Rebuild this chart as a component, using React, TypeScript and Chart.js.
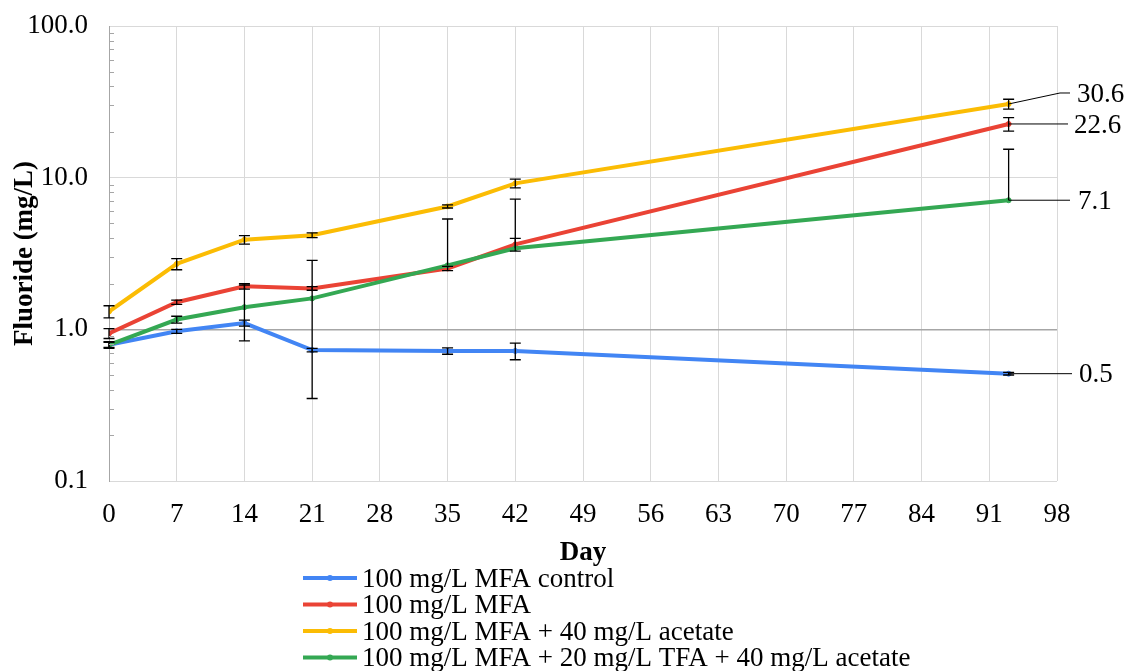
import React, { useEffect, useRef } from 'react';
import { Chart, registerables } from 'chart.js';

Chart.register(...registerables);

// ---------- data ----------
const days = [0, 7, 14, 21, 35, 42, 93];

const seriesNames = [
  '100 mg/L MFA control',
  '100 mg/L MFA',
  '100 mg/L MFA + 40 mg/L acetate',
  '100 mg/L MFA + 20 mg/L TFA + 40 mg/L acetate',
];

const controlValues = [0.79, 0.97, 1.1, 0.73, 0.72, 0.72, 0.51];
const controlErrors = [0.03, 0.03, 0.05, 0.02, 0.035, 0.09, 0.01];

const mfaValues = [0.94, 1.51, 1.92, 1.86, 2.52, 3.63, 22.6];
const mfaErrors = [0.07, 0.05, 0.08, 0.05, 0.08, 0.35, 2.3];

const acetateValues = [1.31, 2.7, 3.9, 4.17, 6.46, 9.17, 30.6];
const acetateErrors = [0.12, 0.23, 0.25, 0.15, 0.15, 0.6, 2.3];

const tfaValues = [0.79, 1.16, 1.4, 1.6, 2.64, 3.42, 7.1];
const tfaErrors = [0.04, 0.06, 0.56, 1.25, 2.7, 3.8, 8.3];

const endLabels = ['0.5', '22.6', '30.6', '7.1'];

const yTickValues = [0.1, 1, 10, 100];
const yTickLabels = ['0.1', '1.0', '10.0', '100.0'];

const seriesValues = [controlValues, mfaValues, acetateValues, tfaValues];
const seriesErrors = [controlErrors, mfaErrors, acetateErrors, tfaErrors];
const seriesColors = ['#4285F4', '#EA4335', '#FBBC04', '#34A853'];

const FONT = '"Liberation Serif", "Times New Roman", serif';
const FS = 27;

// ---------- plugins ----------
const minorTickPlugin = {
  id: 'minorTicks',
  afterDraw(chart: any) {
    const { ctx, chartArea } = chart;
    const y = chart.scales.y;
    ctx.save();
    ctx.strokeStyle = '#a6a6a6';
    ctx.lineWidth = 1;
    for (let d = -1; d < 2; d++) {
      for (let k = 2; k <= 9; k++) {
        const py = Math.round(y.getPixelForValue(k * Math.pow(10, d))) + 0.5;
        ctx.beginPath();
        ctx.moveTo(chartArea.left, py);
        ctx.lineTo(chartArea.left + 5, py);
        ctx.stroke();
      }
    }
    ctx.restore();
  },
};

const errorBarPlugin = {
  id: 'errorBars',
  afterDatasetsDraw(chart: any) {
    const { ctx } = chart;
    const xs = chart.scales.x;
    const ys = chart.scales.y;
    ctx.save();
    ctx.strokeStyle = '#000';
    ctx.lineWidth = 1.3;
    seriesValues.forEach((vals, i) => {
      const errs = seriesErrors[i];
      vals.forEach((v, j) => {
        const e = errs[j];
        const px = xs.getPixelForValue(days[j]);
        const py = ys.getPixelForValue(v);
        const top = ys.getPixelForValue(v + e);
        ctx.beginPath();
        ctx.moveTo(px, py);
        ctx.lineTo(px, top);
        ctx.moveTo(px - 5.5, top);
        ctx.lineTo(px + 5.5, top);
        if (v - e > 0) {
          const bot = ys.getPixelForValue(v - e);
          ctx.moveTo(px, py);
          ctx.lineTo(px, bot);
          ctx.moveTo(px - 5.5, bot);
          ctx.lineTo(px + 5.5, bot);
        }
        ctx.stroke();
      });
    });
    ctx.restore();
  },
};

const labelLayout = [
  { dy: 0, end: 1072, tx: 1079 },
  { dy: 0, end: 1068, tx: 1074 },
  { dy: -11, end: 1070, tx: 1077 },
  { dy: 0, end: 1070, tx: 1078 },
];

const endLabelPlugin = {
  id: 'endLabels',
  afterDraw(chart: any) {
    const { ctx } = chart;
    const xs = chart.scales.x;
    const ys = chart.scales.y;
    ctx.save();
    ctx.strokeStyle = '#000';
    ctx.fillStyle = '#000';
    ctx.lineWidth = 1;
    ctx.font = `${FS}px ${FONT}`;
    ctx.textBaseline = 'middle';
    ctx.textAlign = 'left';
    seriesValues.forEach((vals, i) => {
      const last = vals.length - 1;
      const px = xs.getPixelForValue(days[last]);
      const py = ys.getPixelForValue(vals[last]);
      const L = labelLayout[i];
      const ly = py + L.dy;
      ctx.beginPath();
      ctx.moveTo(px, py);
      if (L.dy !== 0) ctx.lineTo(1060, ly);
      ctx.lineTo(L.end, ly);
      ctx.stroke();
      ctx.fillText(endLabels[i], L.tx, ly + 1.5);
    });
    ctx.restore();
  },
};

const legendPlugin = {
  id: 'customLegend',
  afterDraw(chart: any) {
    const { ctx } = chart;
    ctx.save();
    ctx.font = `${FS}px ${FONT}`;
    ctx.textBaseline = 'alphabetic';
    ctx.textAlign = 'left';
    seriesNames.forEach((name, i) => {
      const base = 586.5 + i * 26.5;
      const cy = base - 8.4;
      ctx.strokeStyle = seriesColors[i];
      ctx.lineWidth = 4;
      ctx.beginPath();
      ctx.moveTo(303, cy);
      ctx.lineTo(357, cy);
      ctx.stroke();
      ctx.fillStyle = seriesColors[i];
      ctx.beginPath();
      ctx.arc(330, cy, 3, 0, Math.PI * 2);
      ctx.fill();
      ctx.fillStyle = '#000';
      ctx.fillText(name, 362, base);
    });
    ctx.restore();
  },
};

export default function App() {
  const canvasRef = useRef<HTMLCanvasElement | null>(null);

  useEffect(() => {
    if (!canvasRef.current) return;
    const datasets = seriesValues.map((vals, i) => ({
      label: seriesNames[i],
      data: vals.map((v, j) => ({ x: days[j], y: v })),
      borderColor: seriesColors[i],
      backgroundColor: seriesColors[i],
      pointBackgroundColor: seriesColors[i],
      pointBorderColor: seriesColors[i],
      pointRadius: 2.5,
      pointBorderWidth: 1,
      borderWidth: 4,
      tension: 0,
      fill: false,
      order: 4 - i,
    }));

    const chart = new Chart(canvasRef.current, {
      type: 'line',
      data: { datasets },
      options: {
        animation: false,
        responsive: false,
        devicePixelRatio: 1,
        layout: { padding: { left: 0, right: 71, top: 26, bottom: 102 } },
        plugins: {
          legend: { display: false },
          tooltip: { enabled: false },
        },
        scales: {
          x: {
            type: 'linear',
            min: 0,
            max: 98,
            ticks: {
              stepSize: 7,
              color: '#000',
              font: { family: FONT, size: FS },
              padding: 18,
              maxRotation: 0,
            },
            grid: { color: '#d9d9d9', lineWidth: 1, drawTicks: false },
            border: { display: false },
            title: {
              display: true,
              text: 'Day',
              color: '#000',
              font: { family: FONT, size: FS, weight: 'bold' },
              padding: { top: 0, bottom: 0 },
            },
            afterFit: (scale: any) => {
              scale.height = 88;
              scale.paddingLeft = 0;
              scale.paddingRight = 0;
            },
          },
          y: {
            type: 'logarithmic',
            min: 0.1,
            max: 100,
            afterBuildTicks: (scale: any) => {
              scale.ticks = yTickValues.map((v) => ({ value: v }));
            },
            ticks: {
              color: '#000',
              font: { family: FONT, size: FS },
              padding: 21,
              callback: (v: any) => {
                const idx = yTickValues.findIndex((t) => Math.abs(t - Number(v)) < 1e-9);
                return idx >= 0 ? yTickLabels[idx] : '';
              },
            },
            grid: {
              drawTicks: false,
              lineWidth: (c: any) => (c.tick && c.tick.value === 1 ? 1.5 : 1),
              color: (c: any) => (c.tick && c.tick.value === 1 ? '#a6a6a6' : '#d9d9d9'),
            },
            border: { display: true, color: '#a6a6a6', width: 1 },
            title: {
              display: true,
              text: 'Fluoride (mg/L)',
              color: '#000',
              font: { family: FONT, size: FS, weight: 'bold' },
              padding: { top: 9, bottom: 0 },
            },
            afterFit: (scale: any) => {
              scale.width = 109;
              scale.paddingTop = 0;
              scale.paddingBottom = 0;
            },
          },
        },
      },
      plugins: [minorTickPlugin, errorBarPlugin, endLabelPlugin, legendPlugin],
    });

    return () => chart.destroy();
  }, []);

  return (
    <div style={{ position: 'fixed', left: 0, top: 0, width: 1128, height: 671, background: '#fff' }}>
      <canvas ref={canvasRef} width={1128} height={671} style={{ display: 'block' }} />
    </div>
  );
}
